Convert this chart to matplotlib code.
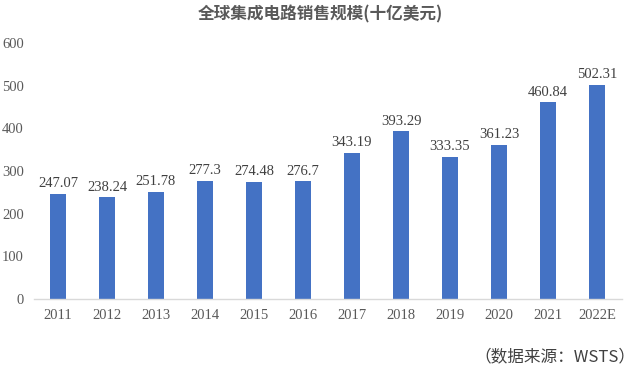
import matplotlib
matplotlib.use("Agg")
import matplotlib.pyplot as plt

years = ["2011", "2012", "2013", "2014", "2015", "2016", "2017", "2018", "2019", "2020", "2021", "2022E"]
sales = [247.07, 238.24, 251.78, 277.3, 274.48, 276.7, 343.19, 393.29, 333.35, 361.23, 460.84, 502.31]
labels = ["247.07", "238.24", "251.78", "277.3", "274.48", "276.7", "343.19", "393.29", "333.35", "361.23", "460.84", "502.31"]
yticks = [0, 100, 200, 300, 400, 500, 600]

serif = ["Liberation Serif", "Noto Sans CJK SC"]
cjk = ["Noto Sans CJK SC", "Liberation Serif"]
txt = "#595959"

fig = plt.figure(figsize=(6.4, 3.76), dpi=100)
ax = fig.add_axes([33.5/640, 77/376, 588/640, 256/376])
x = list(range(len(years)))
ax.bar(x, sales, width=0.33, color="#4472C4", zorder=2)
for xi, v, l in zip(x, sales, labels):
    ax.text(xi, v + 8, l, ha="center", va="bottom", fontsize=10.5, color="#404040", family=serif)
ax.set_xlim(-0.5, len(years) - 0.5)
ax.set_ylim(0, 600)
ax.set_yticks(yticks)
ax.set_yticklabels([str(t) for t in yticks], family=serif, fontsize=10.5, color=txt)
ax.set_xticks(x)
ax.set_xticklabels(years, family=serif, fontsize=10.5, color=txt)
ax.tick_params(axis="both", length=0)
ax.tick_params(axis="y", pad=7)
ax.tick_params(axis="x", pad=7)
for s in ["top", "right", "left"]:
    ax.spines[s].set_visible(False)
ax.spines["bottom"].set_color("#D9D9D9")
ax.spines["bottom"].set_linewidth(1.0)

fig.text(0.5, 1 - 14/376, "全球集成电路销售规模(十亿美元)", ha="center", va="center",
         fontsize=12, fontweight="bold", color=txt, family=cjk)
fig.text(635/640, 1 - 357/376, "（数据来源：WSTS）", ha="right", va="center",
         fontsize=12, color="#404040", family=cjk)
fig.savefig("out.png", dpi=100)
